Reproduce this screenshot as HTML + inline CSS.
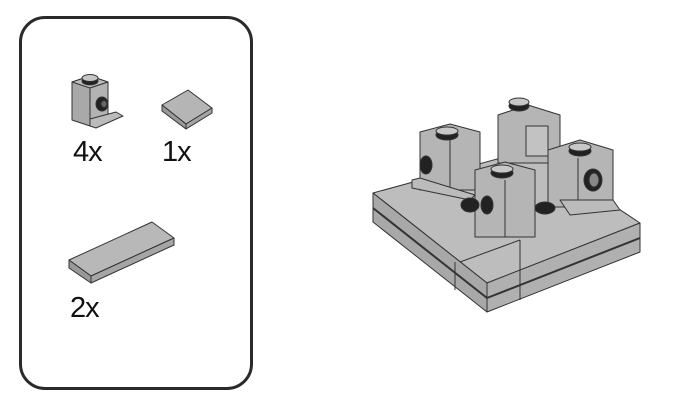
<!DOCTYPE html>
<html><head><style>
body{margin:0;width:696px;height:402px;background:#fff;overflow:hidden;position:relative;font-family:"Liberation Sans",sans-serif}
.box{position:absolute;left:19px;top:16px;width:228px;height:368px;border:3px solid #2a2a2a;border-radius:26px}
.t{position:absolute;font-size:29px;color:#111;letter-spacing:-1px}
</style></head><body>
<div class="box"></div>
<svg width="696" height="402" style="position:absolute;left:0;top:0" stroke="#333" stroke-width="1" stroke-linejoin="round">
<!-- 1x1 brick with stud on side (parts list) -->
<g>
<polygon points="72,82 90,76 108,82 108,120 90,126 72,120" fill="#a9a9a9"/>
<polygon points="72,82 90,76 108,82 90,88" fill="#bdbdbd"/>
<polygon points="90,88 108,82 108,120 90,126" fill="#b3b3b3"/>
<polygon points="90,119 116,112 123,116 96,128 90,126" fill="#bbb"/>
<ellipse cx="90" cy="81" rx="8" ry="4" fill="#222"/>
<ellipse cx="90" cy="78" rx="8" ry="3.5" fill="#c6c6c6"/>
<ellipse cx="102" cy="104" rx="6" ry="7" fill="#222"/>
<ellipse cx="104" cy="104" rx="3" ry="3.5" fill="#666"/>
</g>
<!-- 1x1 tile -->
<polygon points="162,105 188,90 212,108 186,124" fill="#b5b5b5"/>
<polygon points="162,105 186,124 186,129 162,111" fill="#999"/>
<polygon points="186,124 212,108 212,113 186,129" fill="#a5a5a5"/>
<!-- 1x4 tile -->
<polygon points="69,260 152,222 174,238 91,276" fill="#b8b8b8"/>
<polygon points="69,260 91,276 91,283 69,268" fill="#999"/>
<polygon points="91,276 174,238 174,245 91,283" fill="#a5a5a5"/>
<!-- model base -->
<polygon points="373,193 530,150 640,223 487,283" fill="#bdbdbd"/>
<polygon points="373,193 487,283 487,312 373,222" fill="#a8a8a8"/>
<polygon points="487,283 640,223 640,252 487,312" fill="#b0b0b0"/>
<line x1="373" y1="208" x2="487" y2="298" stroke-width="2"/>
<line x1="487" y1="298" x2="640" y2="238" stroke-width="2"/>
<line x1="460" y1="262" x2="520" y2="240"/>
<line x1="520" y1="240" x2="520" y2="300"/>
<line x1="455" y1="262" x2="455" y2="290"/>
<!-- back brick -->
<polygon points="498,115 528,105 560,115 560,163 498,163" fill="#b5b5b5"/>
<rect x="526" y="126" width="22" height="30" fill="#c2c2c2"/>
<ellipse cx="519" cy="106" rx="10" ry="5" fill="#222"/>
<ellipse cx="519" cy="102" rx="10" ry="4" fill="#c8c8c8"/>
<!-- left brick -->
<polygon points="420,132 450,124 480,132 480,190 420,190" fill="#b5b5b5"/>
<line x1="450" y1="140" x2="450" y2="190"/>
<polygon points="412,180 420,178 475,195 470,200 412,188" fill="#bbb"/>
<ellipse cx="447" cy="135" rx="11" ry="5" fill="#222"/>
<ellipse cx="447" cy="131" rx="11" ry="4" fill="#c8c8c8"/>
<ellipse cx="426" cy="165" rx="6" ry="9" fill="#222"/>
<!-- right brick -->
<polygon points="548,150 580,140 613,150 613,207 548,207" fill="#b5b5b5"/>
<line x1="578" y1="158" x2="578" y2="207"/>
<polygon points="560,200 613,200 620,210 570,215" fill="#bbb"/>
<ellipse cx="580" cy="151" rx="11" ry="5" fill="#222"/>
<ellipse cx="580" cy="147" rx="11" ry="4" fill="#c8c8c8"/>
<ellipse cx="593" cy="180" rx="9" ry="11" fill="#222"/>
<ellipse cx="594" cy="180" rx="5" ry="7" fill="#888"/>
<!-- front brick -->
<ellipse cx="545" cy="208" rx="10" ry="6" fill="#222"/>
<polygon points="475,170 505,162 535,170 535,237 475,237" fill="#b5b5b5"/>
<line x1="505" y1="180" x2="505" y2="237"/>
<ellipse cx="502" cy="173" rx="11" ry="5" fill="#222"/>
<ellipse cx="502" cy="169" rx="11" ry="4" fill="#c8c8c8"/>
<ellipse cx="470" cy="205" rx="9" ry="7" fill="#222"/>
<ellipse cx="487" cy="205" rx="6" ry="9" fill="#222"/>
</svg>
<div class="t" style="left:73px;top:136px">4x</div>
<div class="t" style="left:162px;top:136px">1x</div>
<div class="t" style="left:70px;top:292px">2x</div>
</body></html>
